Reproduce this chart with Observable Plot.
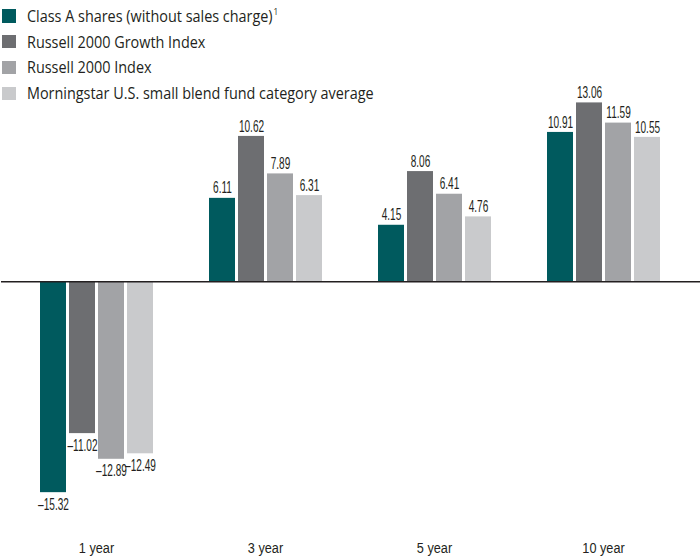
<!DOCTYPE html>
<html><head><meta charset="utf-8">
<script src="https://cdn.jsdelivr.net/npm/d3@7"></script>
<script src="https://cdn.jsdelivr.net/npm/@observablehq/plot@0.6"></script>
<style>
body{margin:0;background:#fff;}
#wrap{position:relative;width:700px;height:559px;}
#legend{position:absolute;left:2px;top:3px;font-family:"Open Sans","Noto Sans",sans-serif;font-size:16px;color:#231f20;}
#legend div{display:flex;align-items:center;height:25.8px;white-space:nowrap;}
#legend span.sw{display:inline-block;width:13.5px;height:13.5px;margin-right:11px;}
#legend span.lb{display:inline-block;transform:scaleX(0.9);transform-origin:0 50%;}
sup{font-size:9px;vertical-align:7px;margin-left:1px;}
</style></head>
<body><div id="wrap"><div id="legend"></div></div>
<script>
const periods = ["1 year","3 year","5 year","10 year"];
const series = ["Class A shares (without sales charge)","Russell 2000 Growth Index","Russell 2000 Index","Morningstar U.S. small blend fund category average"];
const colors = ["#005a5e","#6d6e71","#a2a3a6","#c9cacc"];
const classA = [-15.32, 6.11, 4.15, 10.91];
const growth = [-11.02, 10.62, 8.06, 13.06];
const index2000 = [-12.89, 7.89, 6.41, 11.59];
const morningstar = [-12.49, 6.31, 4.76, 10.55];

const all = [classA, growth, index2000, morningstar];
const data = [];
periods.forEach((p, i) => series.forEach((s, j) => data.push({period: p, series: s, value: all[j][i]})));
const fmt = v => (v < 0 ? "\u2013" + Math.abs(v).toFixed(2) : v.toFixed(2));

const chart = Plot.plot({
  width: 700, height: 559,
  marginLeft: 0, marginRight: 0, marginTop: 89.5, marginBottom: 57.5,
  fx: {domain: periods, paddingInner: 0.33, paddingOuter: 0.224, label: null, axis: "bottom"},
  x: {domain: series, paddingInner: 0.12, paddingOuter: 0, axis: null},
  y: {domain: [-16, 14], axis: null},
  color: {domain: series, range: colors},
  style: {fontFamily: "'Liberation Sans','Arial',sans-serif"},
  marks: [
    Plot.barY(data, {fx: "period", x: "series", y: "value", fill: "series"}),
    Plot.text(data.filter(d => d.value >= 0), {fx: "period", x: "series", y: "value", text: d => fmt(d.value), dy: -10, fontSize: 16, fill: "#231f20"}),
    Plot.text(data.filter(d => d.value < 0), {fx: "period", x: "series", y: "value", text: d => fmt(d.value), dy: 12, fontSize: 16, fill: "#231f20"})
  ]
});
// condense text horizontally around its anchor
function condense(t, k) {
  const tr = t.getAttribute("transform") || "";
  const xa = t.getAttribute("x");
  let pre = "";
  if (xa !== null && isFinite(+xa)) { pre = ` translate(${+xa},0)`; t.removeAttribute("x"); }
  t.setAttribute("transform", `${tr}${pre} scale(${k},1)`);
}
chart.querySelectorAll('g[aria-label="text"] text').forEach(t => condense(t, 0.63));
chart.querySelectorAll('[aria-label="fx-axis tick label"] text').forEach(t => {
  t.setAttribute("fill", "#231f20");
  condense(t, 0.82);
});
const fxl = chart.querySelector('[aria-label="fx-axis tick label"]');
if (fxl) { fxl.setAttribute("font-size", "15.5"); fxl.setAttribute("transform", "translate(0,40)"); }
// zero baseline across the full width, positioned by Plot's y scale
const y0 = chart.scale("y").apply(0);
d3.select(chart).append("line")
  .attr("x1", 1).attr("x2", 700).attr("y1", y0).attr("y2", y0)
  .attr("stroke", "#231f20").attr("stroke-width", 1.5);
document.getElementById("wrap").prepend(chart);

const lg = document.getElementById("legend");
series.forEach((s, j) => {
  const row = document.createElement("div");
  row.innerHTML = `<span class="sw" style="background:${colors[j]}"></span><span class="lb">${s}${j === 0 ? "<sup>1</sup>" : ""}</span>`;
  lg.appendChild(row);
});
</script></body></html>
